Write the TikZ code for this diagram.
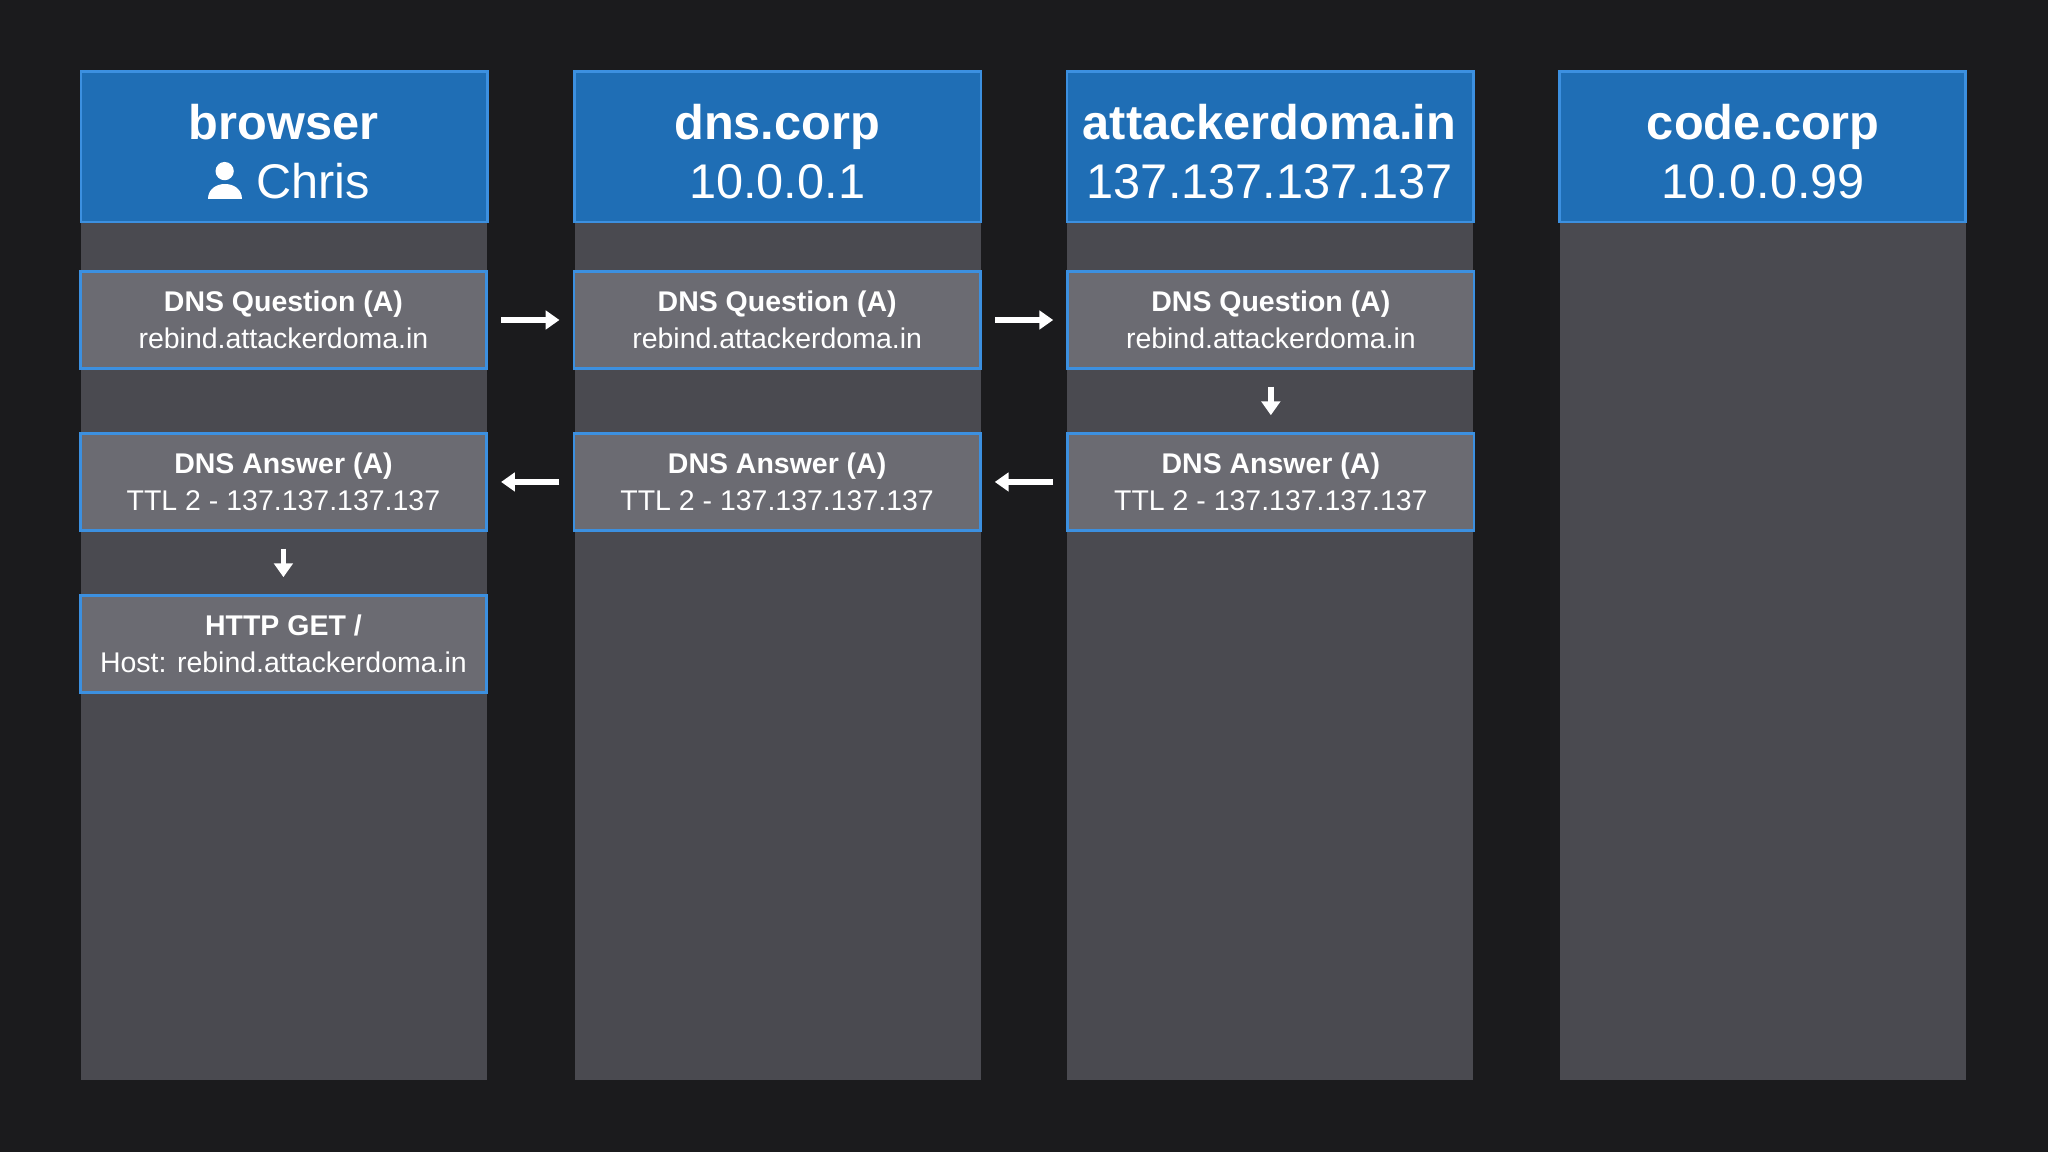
\documentclass[tikz,border=0pt]{standalone}
\usepackage{fontspec}
\setmainfont{Liberation Sans}
\usetikzlibrary{arrows.meta}
\definecolor{bgc}{HTML}{1B1B1D}
\definecolor{hdr}{HTML}{1F6EB5}
\definecolor{hdrb}{HTML}{3C90E0}
\definecolor{colc}{HTML}{4A4A50}
\definecolor{boxc}{HTML}{6B6B72}
\tikzset{
  hdrbox/.style={draw=hdrb, fill=hdr, line width=0.6pt},
  msg/.style={draw=hdrb, fill=boxc, line width=0.6pt, minimum width=3.11cm, minimum height=0.74cm, align=center, text=white, font=\fontsize{6.2}{8}\selectfont, inner sep=0pt},
  hdrtxt/.style={text=white, align=center, font=\fontsize{10.6}{12.8}\selectfont},
  arr/.style={white, line width=1.2pt, -{Triangle[length=3pt,width=4pt]}}
}
\begin{document}
\begin{tikzpicture}[x=0.01cm,y=-0.01cm]
\fill[bgc] (0,0) rectangle (1568,882);
\useasboundingbox (0,0) rectangle (1568,882);
\foreach \x in {62,440,817,1194}{
  \fill[colc] (\x,170) rectangle (\x+311,827);
  \draw[hdrbox] (\x,55) rectangle (\x+311,170);
}
\node[hdrtxt] (h1) at (217,116) {\textbf{browser}\\\hspace*{0.45cm}Chris};
\fill[white] (172,131) circle (7);
\fill[white] (159,152) .. controls (159,137) and (185,137) .. (185,152) -- cycle;
\node[hdrtxt] (h2) at (595,116) {\textbf{dns.corp}\\10.0.0.1};
\node[hdrtxt] (h3) at (972,116) {\textbf{attackerdoma.in}\\137.137.137.137};
\node[hdrtxt] (h4) at (1350,116) {\textbf{code.corp}\\10.0.0.99};

\node[msg] (q1) at (217,245) {\textbf{DNS Question (A)}\\rebind.attackerdoma.in};
\node[msg] (q2) at (595,245) {\textbf{DNS Question (A)}\\rebind.attackerdoma.in};
\node[msg] (q3) at (973,245) {\textbf{DNS Question (A)}\\rebind.attackerdoma.in};
\node[msg] (a1) at (217,369) {\textbf{DNS Answer (A)}\\TTL 2 - 137.137.137.137};
\node[msg] (a2) at (595,369) {\textbf{DNS Answer (A)}\\TTL 2 - 137.137.137.137};
\node[msg] (a3) at (973,369) {\textbf{DNS Answer (A)}\\TTL 2 - 137.137.137.137};
\node[msg] (g1) at (217,493) {\textbf{HTTP GET /}\\Host: rebind.attackerdoma.in};

\draw[arr] ([xshift=0.1cm]q1.east) -- ([xshift=-0.1cm]q2.west);
\draw[arr] ([xshift=0.1cm]q2.east) -- ([xshift=-0.1cm]q3.west);
\draw[arr] ([yshift=-0.13cm]q3.south) -- ([yshift=0.13cm]a3.north);
\draw[arr] ([xshift=-0.1cm]a3.west) -- ([xshift=0.1cm]a2.east);
\draw[arr] ([xshift=-0.1cm]a2.west) -- ([xshift=0.1cm]a1.east);
\draw[arr] ([yshift=-0.13cm]a1.south) -- ([yshift=0.13cm]g1.north);
\end{tikzpicture}
\end{document}
